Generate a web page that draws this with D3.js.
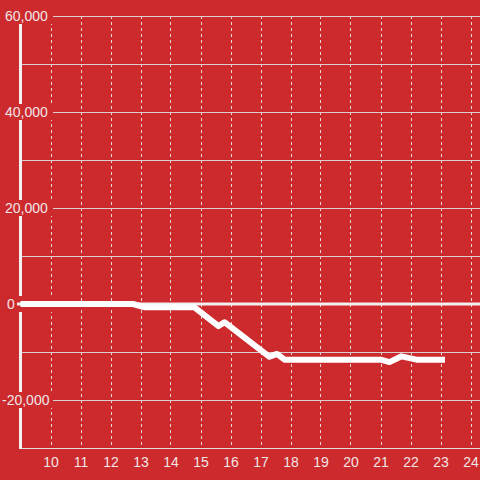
<!DOCTYPE html>
<html>
<head>
<meta charset="utf-8">
<script src="https://cdn.jsdelivr.net/npm/d3@7"></script>
<style>
  html, body { margin: 0; padding: 0; background: #cd2a2e; }
  svg { display: block; font-family: "Liberation Sans", Arial, sans-serif; }
</style>
</head>
<body>
<svg width="480" height="480"></svg>
<script>
const bg = "#cd2a2e";
const xTicks = [10, 11, 12, 13, 14, 15, 16, 17, 18, 19, 20, 21, 22, 23, 24];
const yTicks = [-20000, 0, 20000, 40000, 60000];
const yGrid = [-20000, -10000, 10000, 20000, 30000, 40000, 50000, 60000];

// line series
const hours = [9, 12.75, 13.15, 14.8, 15.6, 15.8, 17.3, 17.55, 17.8, 21.0, 21.3, 21.7, 22.2, 23.15];
const values = [0, 0, -700, -700, -4600, -3800, -11000, -10400, -11600, -11600, -12100, -10900, -11600, -11600];

const svg = d3.select("svg");
svg.append("rect").attr("width", 480).attr("height", 480).attr("fill", bg);

const x = d3.scaleLinear().domain([9, 24]).range([20.5, 470.5]);
const y = d3.scaleLinear().domain([-30000, 60000]).range([448, 16]);

// vertical dashed grid
svg.append("g")
  .selectAll("line")
  .data(xTicks)
  .enter()
  .append("line")
  .attr("x1", d => Math.round(x(d)) + 0.5)
  .attr("x2", d => Math.round(x(d)) + 0.5)
  .attr("y1", y(60000))
  .attr("y2", y(-30000))
  .attr("stroke", "#e6d6d6")
  .attr("stroke-width", 1)
  .attr("stroke-dasharray", "3,3");

// horizontal grid
svg.append("g")
  .selectAll("line")
  .data(yGrid)
  .enter()
  .append("line")
  .attr("x1", x(9))
  .attr("x2", 480)
  .attr("y1", d => Math.round(y(d)) + 0.5)
  .attr("y2", d => Math.round(y(d)) + 0.5)
  .attr("stroke", "#d8d0d0")
  .attr("stroke-width", 1);

// bottom axis line
svg.append("line")
  .attr("x1", x(9)).attr("x2", 480)
  .attr("y1", y(-30000) + 0.5).attr("y2", y(-30000) + 0.5)
  .attr("stroke", "#ddd").attr("stroke-width", 1);

// left axis line
svg.append("line")
  .attr("x1", x(9)).attr("x2", x(9))
  .attr("y1", y(60000)).attr("y2", y(-30000) + 1)
  .attr("stroke", "#f2f2f2").attr("stroke-width", 3);

// y labels with background boxes
const yl = svg.append("g")
  .selectAll("g")
  .data(yTicks)
  .enter()
  .append("g")
  .attr("transform", d => `translate(0,${y(d)})`);

yl.append("rect")
  .attr("x", 0)
  .attr("y", -8)
  .attr("width", 53)
  .attr("height", 16)
  .attr("fill", bg);

yl.append("text")
  .attr("x", d => d < 0 ? 2 : (d === 0 ? 7 : 5))
  .attr("dy", "0.36em")
  .attr("fill", "#f0e6e6")
  .attr("font-size", 14)
  .text(d => d3.format(",")(d).replace("−", "-"));

// zero line
svg.append("line")
  .attr("x1", 17).attr("x2", 480)
  .attr("y1", y(0)).attr("y2", y(0))
  .attr("stroke", "#f4f0f0").attr("stroke-width", 3);

// x labels
svg.append("g")
  .selectAll("text")
  .data(xTicks)
  .enter()
  .append("text")
  .attr("x", d => x(d) + 0.5)
  .attr("y", 467)
  .attr("text-anchor", "middle")
  .attr("fill", "#f0e6e6")
  .attr("font-size", 14)
  .text(d => d);

// data line
const pts = hours.map((h, i) => [h, values[i]]);
svg.append("path")
  .datum(pts)
  .attr("fill", "none")
  .attr("stroke", "#ffffff")
  .attr("stroke-width", 6)
  .attr("stroke-linejoin", "round")
  .attr("d", d3.line().x(d => x(d[0])).y(d => y(d[1])));
</script>
</body>
</html>
